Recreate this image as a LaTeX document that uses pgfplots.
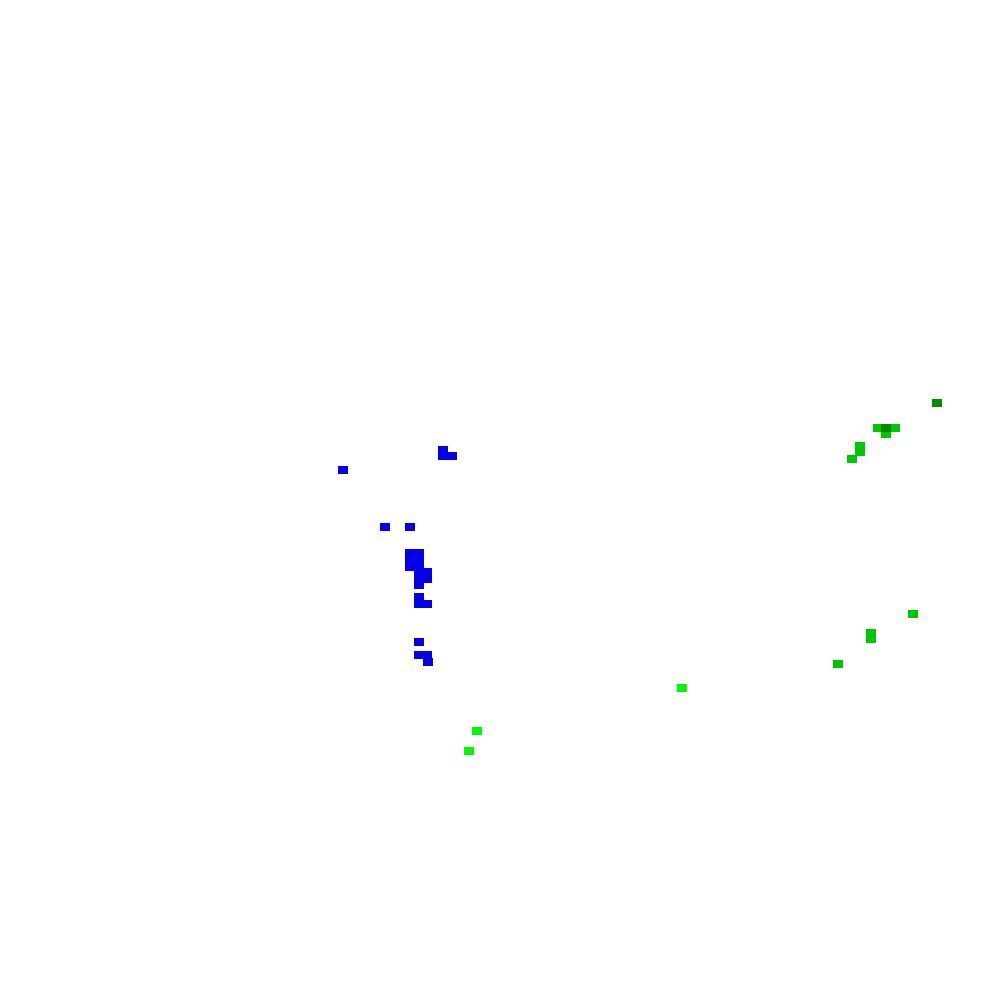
\documentclass[border=0pt]{standalone}
\usepackage{pgfplots}
\pgfplotsset{compat=1.18}
\definecolor{cellblue}{RGB}{5,0,230}
\definecolor{cellgreen}{RGB}{0,200,0}
\definecolor{celllime}{RGB}{0,250,0}
\definecolor{celldark}{RGB}{0,138,0}
\begin{document}
\begin{tikzpicture}
\begin{axis}[
    scale only axis,
    width=10cm, height=10cm,
    xmin=0, xmax=1000, ymin=0, ymax=1000,
    y dir=reverse,
    hide axis,
    clip=false,
    every axis plot/.append style={only marks, mark=square*,
        mark options={draw=none, xscale=1, yscale=0.77}, mark size=1.22pt},
]
% blue cluster
\addplot[cellblue] coordinates {
    (443,450) (443,456) (452,456)
    (343,470)
    (385,527) (410,527)
    (410,553) (419,553) (410,560) (419,560) (410,567) (419,567)
    (419,572) (427,572) (419,579) (427,579) (419,585)
    (419,597) (419,604) (427,604)
    (419,642)
    (419,655) (427,655) (428,662)
};
% green cells
\addplot[cellgreen] coordinates {
    (878,428) (895,428) (886,434)
    (860,446) (860,452) (852,459)
    (913,614) (871,633) (871,639) (838,664)
};
% bright green cells
\addplot[celllime] coordinates {
    (682,688) (477,731) (469,751)
};
% dark green cells
\addplot[celldark] coordinates {
    (937,403) (886,428)
};
\end{axis}
\pgfresetboundingbox
\path (current axis.south west) rectangle (current axis.north east);
\end{tikzpicture}
\end{document}
